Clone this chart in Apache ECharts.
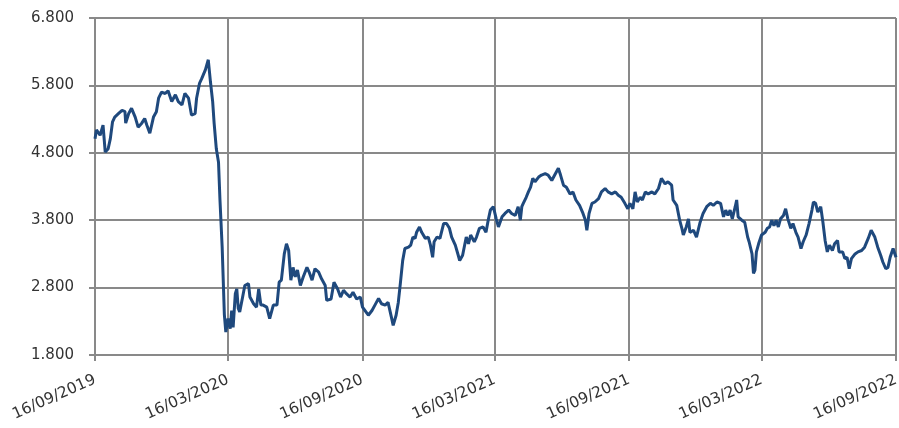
<!DOCTYPE html>
<html>
<head>
<meta charset="utf-8">
<script src="https://cdn.jsdelivr.net/npm/echarts@6/dist/echarts.min.js"></script>
<style>
html,body{margin:0;padding:0;background:#fff;}
#chart{width:899px;height:428px;}
</style>
</head>
<body>
<div id="chart"></div>
<script>
// Start date of the series and day offsets
const startDate = '2019-09-16';
const days = [0,2,7,11,14,18,21,24,27,32,37,41,42,46,50,55,59,64,68,71,75,80,84,87,91,96,100,105,110,114,119,123,128,132,137,139,143,146,151,155,158,161,163,166,169,171,174,177,179,
182,185,187,189,192,194,196,198,202,205,210,212,217,221,224,227,230,235,239,244,249,252,255,259,262,265,268,271,274,277,281,285,290,293,297,301,306,310,315,317,323,327,332,336,340,344,349,353,358,363,366,
374,379,383,388,392,397,401,406,408,412,415,418,421,424,429,432,435,438,440,444,447,452,456,459,462,464,468,472,477,481,485,488,493,497,499,503,508,511,514,519,522,526,531,535,538,541,545,
549,552,557,561,566,570,575,579,582,584,586,590,593,596,599,602,607,611,616,620,625,629,634,637,641,645,650,654,658,663,667,671,673,676,680,684,689,693,698,702,707,712,716,720,725,729,
732,736,739,742,746,749,753,757,762,766,771,775,780,784,789,791,796,800,803,805,809,812,814,819,823,828,832,837,842,846,851,856,860,863,866,869,872,876,878,880,885,889,893,895,899,901,903,905,908,912,917,920,
923,926,929,932,935,938,942,945,948,952,955,959,962,966,969,973,977,981,983,986,989,993,996,999,1002,1005,1009,1012,1016,1018,1023,1026,1029,1032,1035,1040,1044,1049,1053,1058,1062,1067,1071,1075,1078,1082,1085,1088,1092,1096];
const values = [5.01,5.14,5.06,5.21,4.81,4.86,5.01,5.26,5.33,5.38,5.43,5.41,5.24,5.38,5.46,5.33,5.18,5.24,5.31,5.21,5.09,5.33,5.41,5.61,5.70,5.68,5.72,5.56,5.66,5.56,5.51,5.68,5.61,5.36,5.38,5.61,5.83,5.90,6.03,6.18,5.85,5.56,5.24,4.86,4.66,4.10,3.40,2.40,2.14,
2.34,2.19,2.46,2.21,2.71,2.78,2.49,2.44,2.66,2.83,2.86,2.66,2.56,2.51,2.78,2.54,2.54,2.51,2.34,2.54,2.54,2.88,2.91,3.30,3.45,3.35,2.91,3.10,2.96,3.06,2.83,2.96,3.10,3.03,2.91,3.08,3.03,2.93,2.83,2.61,2.63,2.88,2.78,2.66,2.76,2.71,2.66,2.73,2.63,2.66,2.51,
2.39,2.46,2.54,2.64,2.56,2.54,2.58,2.34,2.24,2.39,2.58,2.88,3.20,3.38,3.40,3.43,3.55,3.53,3.62,3.70,3.62,3.53,3.55,3.43,3.25,3.48,3.55,3.53,3.75,3.75,3.68,3.55,3.43,3.28,3.20,3.28,3.55,3.45,3.58,3.48,3.55,3.68,3.70,3.62,3.80,3.95,4.00,
3.82,3.70,3.85,3.90,3.95,3.90,3.87,4.00,3.80,4.00,4.05,4.14,4.22,4.29,4.42,4.37,4.44,4.47,4.49,4.47,4.39,4.47,4.57,4.47,4.32,4.29,4.19,4.22,4.10,4.02,3.92,3.80,3.65,3.90,4.05,4.07,4.12,4.22,4.27,4.22,4.19,4.22,4.17,4.14,4.05,3.97,
4.05,3.97,4.22,4.07,4.14,4.10,4.22,4.19,4.22,4.19,4.27,4.42,4.34,4.37,4.32,4.10,4.02,3.80,3.68,3.58,3.70,3.82,3.62,3.65,3.55,3.77,3.90,4.00,4.05,4.02,4.07,4.05,3.85,3.95,3.87,3.95,3.82,4.00,4.10,3.85,3.80,3.77,3.55,3.48,3.30,3.01,3.06,3.33,3.45,3.58,3.62,3.68,
3.70,3.80,3.72,3.80,3.70,3.82,3.87,3.97,3.82,3.68,3.75,3.62,3.55,3.38,3.48,3.58,3.75,3.95,4.07,4.05,3.92,4.00,3.77,3.50,3.33,3.43,3.35,3.45,3.50,3.33,3.33,3.23,3.25,3.08,3.23,3.30,3.33,3.35,3.40,3.53,3.65,3.55,3.40,3.28,3.18,3.08,3.10,3.25,3.38,3.25];
const xTickDates = ['2019-09-16','2020-03-16','2020-09-16','2021-03-16','2021-09-16','2022-03-16','2022-09-16'];
const yTicks = [1.8,2.8,3.8,4.8,5.8,6.8];

const DAY = 86400000;
const t0 = Date.parse(startDate + 'T00:00:00Z');
const seriesData = days.map((d, i) => [t0 + d * DAY, values[i]]);
const xTickTimes = xTickDates.map(s => Date.parse(s + 'T00:00:00Z'));

function fmtDate(v) {
  const d = new Date(v);
  const dd = String(d.getUTCDate()).padStart(2, '0');
  const mm = String(d.getUTCMonth() + 1).padStart(2, '0');
  return dd + '/' + mm + '/' + d.getUTCFullYear();
}

const gridColor = '#898989';
const textColor = '#333333';
const font = 'DejaVu Sans';
const chart = echarts.init(document.getElementById('chart'), null, {renderer: 'canvas'});
chart.setOption({
  animation: false,
  backgroundColor: '#ffffff',
  textStyle: {fontFamily: font},
  grid: {left: 95, right: 3, top: 18, bottom: 73, containLabel: false, outerBoundsMode: 'none'},
  xAxis: {
    type: 'value',
    min: xTickTimes[0],
    max: xTickTimes[xTickTimes.length - 1],
    axisLine: {show: true, lineStyle: {color: gridColor, width: 2}},
    axisTick: {show: true, customValues: xTickTimes, length: 6, lineStyle: {color: gridColor, width: 2}},
    splitLine: {show: true, lineStyle: {color: gridColor, width: 2}},
    axisLabel: {
      customValues: xTickTimes,
      formatter: fmtDate,
      rotate: 24,
      margin: 24,
      color: textColor,
      fontSize: 15.5,
      fontFamily: font,
      showMinLabel: true,
      showMaxLabel: true
    }
  },
  yAxis: {
    type: 'value',
    min: yTicks[0],
    max: yTicks[yTicks.length - 1],
    axisLine: {show: true, lineStyle: {color: gridColor, width: 2}},
    axisTick: {show: true, customValues: yTicks, length: 6, lineStyle: {color: gridColor, width: 2}},
    splitLine: {show: true, lineStyle: {color: gridColor, width: 2}},
    axisLabel: {
      customValues: yTicks,
      formatter: v => v.toFixed(3),
      margin: 21,
      color: textColor,
      fontSize: 15,
      fontFamily: font
    }
  },
  series: [{
    type: 'line',
    data: seriesData,
    showSymbol: false,
    symbol: 'none',
    lineStyle: {color: '#1F497D', width: 3},
    itemStyle: {color: '#1F497D'}
  }]
});
</script>
</body>
</html>
